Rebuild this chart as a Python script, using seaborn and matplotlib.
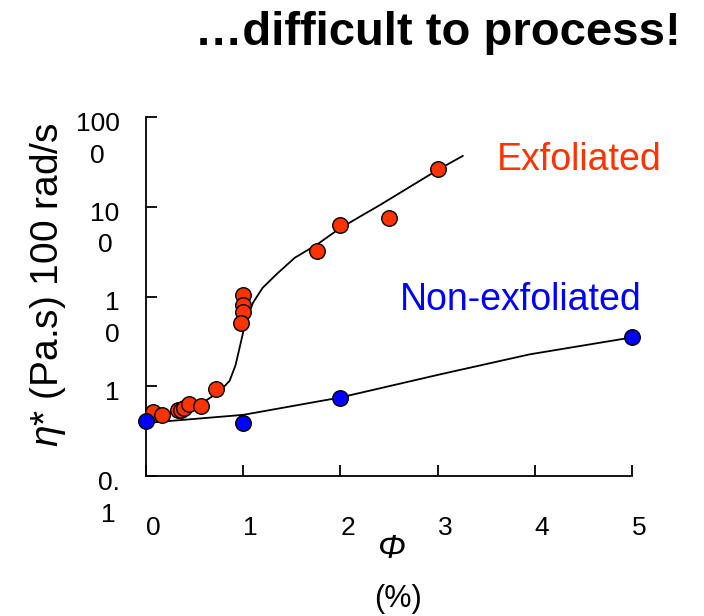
import matplotlib
matplotlib.use("Agg")
import matplotlib.pyplot as plt
import matplotlib.transforms as mtransforms
import seaborn as sns
import pandas as pd

exf_phi = [0.07, 0.16, 0.33, 0.36, 0.39, 0.44, 0.57, 0.72, 1.0, 1.0, 1.0, 0.98, 1.76, 2.0, 2.5, 3.0]
exf_eta = [0.51, 0.48, 0.54, 0.54, 0.57, 0.63, 0.60, 0.93, 10.5, 8.1, 6.8, 5.1, 32, 63, 75, 263]

non_phi = [0.0, 1.0, 2.0, 5.0]
non_eta = [0.41, 0.39, 0.74, 3.5]

# guide curves drawn through the data
exf_fit_phi = [0.0, 0.25, 0.56, 0.76, 0.86, 0.92, 0.96, 1.02, 1.1, 1.2, 1.35, 1.53, 1.76, 2.0, 2.41, 3.0, 3.26]
exf_fit_eta = [0.39, 0.50, 0.63, 0.88, 1.15, 1.7, 2.6, 5.0, 8.5, 12.5, 18, 27, 38, 58, 105, 257, 369]

non_fit_phi = [0.0, 1.0, 2.0, 3.03, 3.95, 5.0]
non_fit_eta = [0.39, 0.48, 0.75, 1.36, 2.27, 3.5]

x_ticks = [0, 1, 2, 3, 4, 5]
y_ticks = [0.1, 1, 10, 100, 1000]
y_ticklabels = ["0.\n1", "1", "1\n0", "10\n0", "100\n0"]

RED = "#FF3300"
BLUE = "#0000FF"
FONT = "Liberation Sans"

sns.set_theme(style="ticks")
plt.rcParams["font.family"] = [FONT, "DejaVu Sans"]
plt.rcParams["text.color"] = "black"
plt.rcParams["mathtext.fontset"] = "custom"
plt.rcParams["mathtext.it"] = FONT + ":italic"
plt.rcParams["mathtext.rm"] = FONT

fig = plt.figure(figsize=(7.04, 6.16), dpi=100)
ax = fig.add_axes([146 / 704, 1 - 476 / 616, (632 - 146) / 704, (476 - 117) / 616])

exf_fit = pd.DataFrame({"phi": exf_fit_phi, "eta": exf_fit_eta})
non_fit = pd.DataFrame({"phi": non_fit_phi, "eta": non_fit_eta})
sns.lineplot(data=exf_fit, x="phi", y="eta", sort=False, estimator=None,
             color="black", linewidth=1.3, ax=ax)
sns.lineplot(data=non_fit, x="phi", y="eta", sort=False, estimator=None,
             color="black", linewidth=1.3, ax=ax)

exf = pd.DataFrame({"phi": exf_phi, "eta": exf_eta})
non = pd.DataFrame({"phi": non_phi, "eta": non_eta})
sns.scatterplot(data=exf, x="phi", y="eta", color=RED, edgecolor="black",
                linewidth=1.0, s=125, ax=ax, zorder=3, clip_on=False)
sns.scatterplot(data=non, x="phi", y="eta", color=BLUE, edgecolor="black",
                linewidth=1.0, s=125, ax=ax, zorder=3, clip_on=False)

ax.set_yscale("log")
ax.set_xlim(0, 5)
ax.set_ylim(0.1, 1000)
ax.set_xticks(x_ticks)
ax.set_xticklabels([str(t) for t in x_ticks])
ax.set_yticks(y_ticks)
ax.set_yticklabels(y_ticklabels)
ax.minorticks_off()
ax.set_xlabel("")
ax.set_ylabel("")

sns.despine(ax=ax)
for side in ["left", "bottom"]:
    ax.spines[side].set_linewidth(1.3)
    ax.spines[side].set_color("black")

ax.tick_params(axis="both", direction="in", length=8, width=1.3, colors="black",
               labelsize=19)
ax.tick_params(axis="x", pad=29)
ax.tick_params(axis="y", pad=19)

for lab in ax.get_xticklabels():
    lab.set_horizontalalignment("left")

# multi-line y labels: first line sits on the tick, rest hangs below
shift = mtransforms.ScaledTranslation(0, 5 / 100, fig.dpi_scale_trans)
for lab in ax.get_yticklabels():
    lab.set_verticalalignment("top")
    lab.set_multialignment("center")
    lab.set_linespacing(1.4)
    lab.set_transform(lab.get_transform() + shift)

ax.text(3.61, 257, "Exfoliated", color=RED, fontsize=27, ha="left",
        va="baseline", clip_on=False)
ax.text(2.61, 7.0, "Non-exfoliated", color=BLUE, fontsize=27, ha="left",
        va="baseline", clip_on=False)

fig.text(681 / 704, 1 - 45 / 616, "\u2026difficult to process!", fontsize=34,
         fontweight="bold", ha="right", va="baseline")
fig.text(392 / 704, 1 - 549 / 616, "\u03a6", fontsize=24, style="italic",
         ha="center", va="center")
fig.text(398 / 704, 1 - 599 / 616, "(%)", fontsize=22, ha="center", va="center")
fig.text(48 / 704, 1 - 285 / 616, r"$\mathit{\eta}$* (Pa.s) 100 rad/s",
         fontsize=28, rotation=90, ha="center", va="center")

fig.savefig("out.png", dpi=100)
